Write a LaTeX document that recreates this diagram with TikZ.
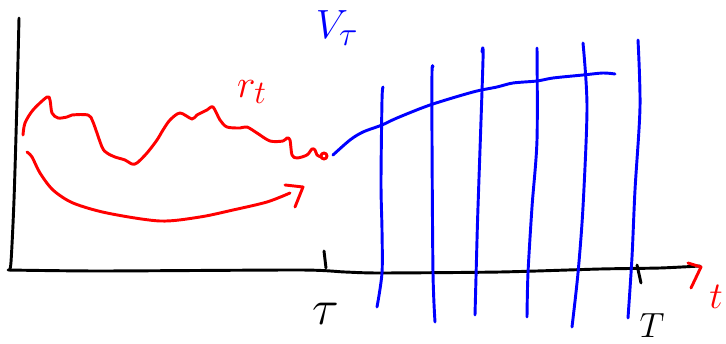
\documentclass[tikz,border=0pt]{standalone}
\begin{document}
\begin{tikzpicture}[x=0.03cm,y=-0.03cm,
  pen/.style={line width=2.5pt,line cap=round,line join=round},
  blk/.style={pen,black},
  rd/.style={pen,red},
  bl/.style={pen,blue},
  lbl/.style={inner sep=0pt,font=\fontsize{24.88}{28}\selectfont}]
\useasboundingbox (0,0) rectangle (726,344);
% axes
\draw[blk] plot[smooth,tension=0.5] coordinates {(19,18) (17,100) (14,200) (11,262) (9,270)};
\draw[blk] plot[smooth,tension=0.4] coordinates {(8,270) (100,271) (300,270) (345,272) (380,273) (500,272) (600,269) (660,268) (700,266)};
\draw[blk] (324,251) -- (326,268);
\draw[blk] (637,265) -- (641,283);
\node[lbl,scale=1.7] (tau) at (326,314) {$\tau$};
\node[lbl,scale=1.2] (T) at (652,326) {$T$};
% red arrow at axis end + t label
\draw[rd] (688,263) -- (701,267) -- (691,288);
\node[lbl,red,scale=1.3] (tlab) at (716,297) {$t$};
% red wiggly r_t
\draw[rd] plot[smooth,tension=0.5] coordinates {(23,135) (25,123) (33,110) (47,97) (50,100) (52,113) (58,118) (67,117) (72,115) (88,115) (93,122) (102,147) (107,153) (115,157) (125,160) (132,164) (137,163) (147,153) (157,140) (163,130) (170,120) (180,113) (192,119) (197,115) (207,110) (213,107) (220,120) (227,127) (240,128) (247,127) (257,133) (270,141) (283,141) (287,138) (290,140) (292,155) (297,158) (307,155) (312,149) (315,150) (317,155) (321,157)};
\draw[rd] (324,156) circle (3);
\node[lbl,red,scale=1.35] (rt) at (252,92) {$r_t$};
% red curved arrow
\draw[rd] plot[smooth,tension=0.5] coordinates {(27,152) (32,157) (40,173) (53,190) (73,203) (107,213) (160,221) (200,217) (233,210) (267,202) (290,193)};
\draw[rd] (285,185) -- (303,187) -- (295,207);
% blue V_tau
\node[lbl,blue,scale=1.4] (V) at (337,28) {$V_\tau$};
\draw[bl] plot[smooth,tension=0.5] coordinates {(333,155) (350,140) (363,132) (382,125) (397,118) (430,105) (473,92) (497,87) (513,83) (537,81) (553,78) (583,75) (603,73) (615,74)};
% blue verticals
\draw[bl] plot[smooth,tension=0.5] coordinates {(383,87) (382,100) (381,183) (382,230) (382,273) (377,307)};
\draw[bl] plot[smooth,tension=0.5] coordinates {(433,67) (432,72) (432,140) (433,273) (435,322)};
\draw[bl] plot[smooth,tension=0.5] coordinates {(482,52) (483,60) (478,207) (477,240) (475,315)};
\draw[bl] plot[smooth,tension=0.5] coordinates {(537,48) (537,140) (532,207) (528,273) (527,317)};
\draw[bl] plot[smooth,tension=0.5] coordinates {(583,43) (587,107) (583,207) (578,273) (572,327)};
\draw[bl] plot[smooth,tension=0.5] coordinates {(638,40) (640,107) (635,190) (632,257) (628,318)};
\end{tikzpicture}
\end{document}
